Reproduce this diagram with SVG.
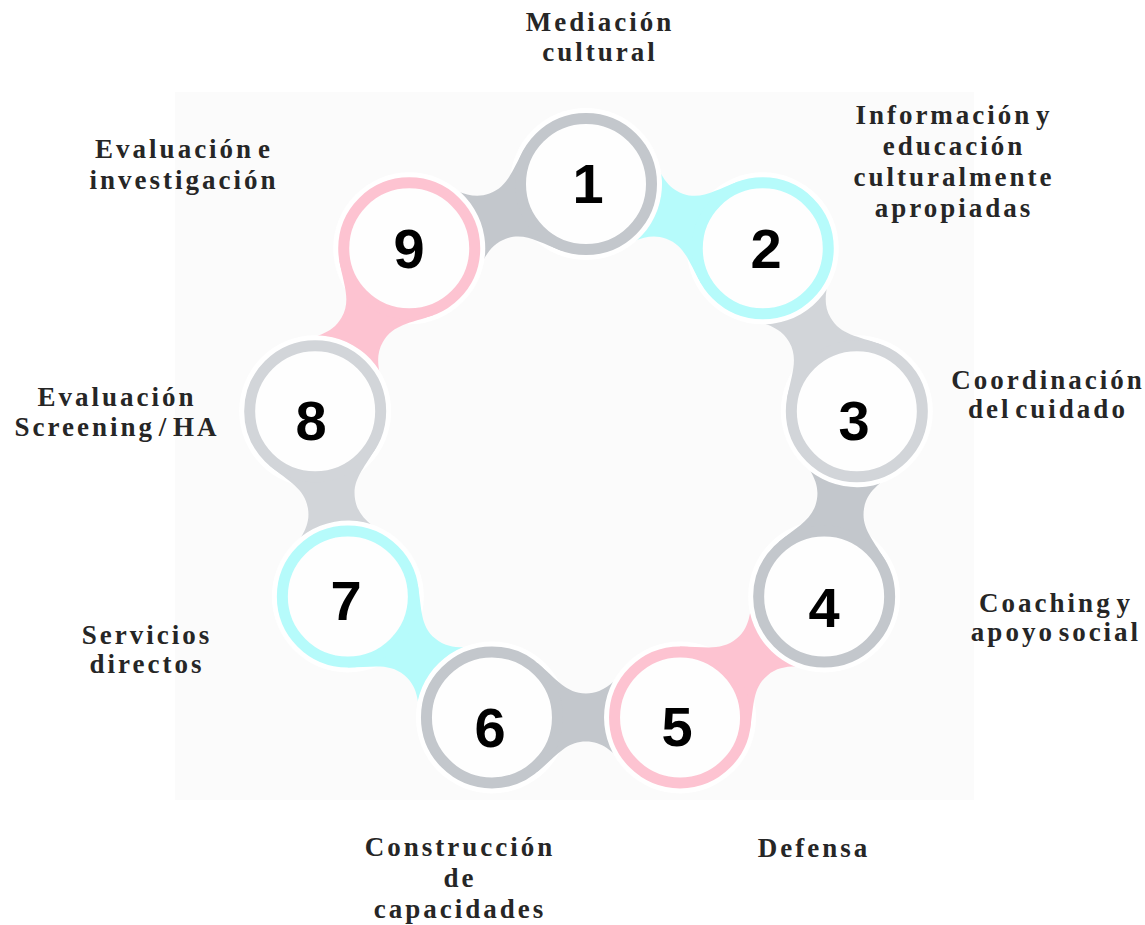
<svg xmlns="http://www.w3.org/2000/svg" xmlns:xlink="http://www.w3.org/1999/xlink" width="1145" height="925" viewBox="0 0 1145 925">
<style>
.bg{fill:#fbfbfb}
.halo{fill:#ffffff}
.ring{stroke-width:11;fill:#fefefe}
.c-gray{fill:#c3c7cc}
.c-lgray{fill:#d2d5d9}
.c-cyan{fill:#b6fbfb}
.c-pink{fill:#fdc3d1}
.s-gray{stroke:#c3c7cc}
.s-lgray{stroke:#d2d5d9}
.s-cyan{stroke:#b6fbfb}
.s-pink{stroke:#fdc3d1}
.num{font-family:"Liberation Sans",Arial,sans-serif;font-weight:bold;font-size:56px;fill:#000000;text-anchor:middle}
.lbl{font-family:"Liberation Serif","Times New Roman",serif;font-weight:bold;font-size:27px;fill:#262626;text-anchor:middle;letter-spacing:3px;word-spacing:-6px}
</style>
<defs>
<clipPath id="cut" clipPathUnits="userSpaceOnUse">
<path clip-rule="evenodd" d="M-200,-200H400V200H-200Z M264.1,0A76,76 0 1,0 112.1,0A76,76 0 1,0 264.1,0Z"/>
</clipPath>
<path id="neck" d="M45.6,-54.4 C64.7,-38.3 74,-24 94,-24 C114,-24 123.3,-38.3 142.4,-54.4 L170,0 L142.4,54.4 C123.3,38.3 114,24 94,24 C74,24 64.7,38.3 45.6,54.4 L0,0 Z"/>
</defs>

<rect class="bg" x="175" y="92" width="799" height="708"/>

<g id="node-halos">
<circle class="halo" cx="586" cy="184" r="76"/>
<circle class="halo" cx="762.77" cy="248.34" r="76"/>
<circle class="halo" cx="856.83" cy="411.25" r="76"/>
<circle class="halo" cx="824.15" cy="596.5" r="76"/>
<circle class="halo" cx="680.05" cy="717.42" r="76"/>
<circle class="halo" cx="491.95" cy="717.42" r="76"/>
<circle class="halo" cx="347.85" cy="596.5" r="76"/>
<circle class="halo" cx="315.17" cy="411.25" r="76"/>
<circle class="halo" cx="409.23" cy="248.34" r="76"/>
</g>

<g id="connectors">
<g transform="rotate(0 586 459) translate(586 184) rotate(160)"><use xlink:href="#neck" href="#neck" class="c-gray" clip-path="url(#cut)"/></g>
<g transform="rotate(40 586 459) translate(586 184) rotate(160)"><use xlink:href="#neck" href="#neck" class="c-cyan" clip-path="url(#cut)"/></g>
<g transform="rotate(80 586 459) translate(586 184) rotate(160)"><use xlink:href="#neck" href="#neck" class="c-lgray" clip-path="url(#cut)"/></g>
<g transform="rotate(120 586 459) translate(586 184) rotate(160)"><use xlink:href="#neck" href="#neck" class="c-gray" clip-path="url(#cut)"/></g>
<g transform="rotate(160 586 459) translate(586 184) rotate(160)"><use xlink:href="#neck" href="#neck" class="c-pink" clip-path="url(#cut)"/></g>
<g transform="rotate(200 586 459) translate(586 184) rotate(160)"><use xlink:href="#neck" href="#neck" class="c-gray" clip-path="url(#cut)"/></g>
<g transform="rotate(240 586 459) translate(586 184) rotate(160)"><use xlink:href="#neck" href="#neck" class="c-cyan" clip-path="url(#cut)"/></g>
<g transform="rotate(280 586 459) translate(586 184) rotate(160)"><use xlink:href="#neck" href="#neck" class="c-lgray" clip-path="url(#cut)"/></g>
<g transform="rotate(320 586 459) translate(586 184) rotate(160)"><use xlink:href="#neck" href="#neck" class="c-pink" clip-path="url(#cut)"/></g>
</g>

<g id="node-1">
<circle class="ring s-gray" cx="586" cy="184" r="65.5"/>
<text class="num" x="588" y="203">1</text>
<text class="lbl" x="600" y="31">Mediación</text>
<text class="lbl" x="600" y="61">cultural</text>
</g>
<g id="node-2">
<circle class="ring s-cyan" cx="762.77" cy="248.34" r="65.5"/>
<text class="num" x="766" y="268">2</text>
<text class="lbl" x="954" y="124">Información y</text>
<text class="lbl" x="954" y="155">educación</text>
<text class="lbl" x="954" y="186">culturalmente</text>
<text class="lbl" x="954" y="217">apropiadas</text>
</g>
<g id="node-3">
<circle class="ring s-lgray" cx="856.83" cy="411.25" r="65.5"/>
<text class="num" x="854" y="440">3</text>
<text class="lbl" x="1048" y="389">Coordinación</text>
<text class="lbl" x="1048" y="418">del cuidado</text>
</g>
<g id="node-4">
<circle class="ring s-gray" cx="824.15" cy="596.5" r="65.5"/>
<text class="num" x="824" y="627">4</text>
<text class="lbl" x="1056" y="612">Coaching y</text>
<text class="lbl" x="1056" y="641">apoyo social</text>
</g>
<g id="node-5">
<circle class="ring s-pink" cx="680.05" cy="717.42" r="65.5"/>
<text class="num" x="677" y="746">5</text>
<text class="lbl" x="814" y="857">Defensa</text>
</g>
<g id="node-6">
<circle class="ring s-gray" cx="491.95" cy="717.42" r="65.5"/>
<text class="num" x="490" y="747">6</text>
<text class="lbl" x="460" y="856">Construcción</text>
<text class="lbl" x="460" y="887">de</text>
<text class="lbl" x="460" y="918">capacidades</text>
</g>
<g id="node-7">
<circle class="ring s-cyan" cx="347.85" cy="596.5" r="65.5"/>
<text class="num" x="346" y="620">7</text>
<text class="lbl" x="147" y="644">Servicios</text>
<text class="lbl" x="147" y="673">directos</text>
</g>
<g id="node-8">
<circle class="ring s-lgray" cx="315.17" cy="411.25" r="65.5"/>
<text class="num" x="311" y="440">8</text>
<text class="lbl" x="117" y="406">Evaluación</text>
<text class="lbl" x="117" y="436">Screening / HA</text>
</g>
<g id="node-9">
<circle class="ring s-pink" cx="409.23" cy="248.34" r="65.5"/>
<text class="num" x="409" y="268">9</text>
<text class="lbl" x="184" y="158">Evaluación e</text>
<text class="lbl" x="184" y="189">investigación</text>
</g>
</svg>
